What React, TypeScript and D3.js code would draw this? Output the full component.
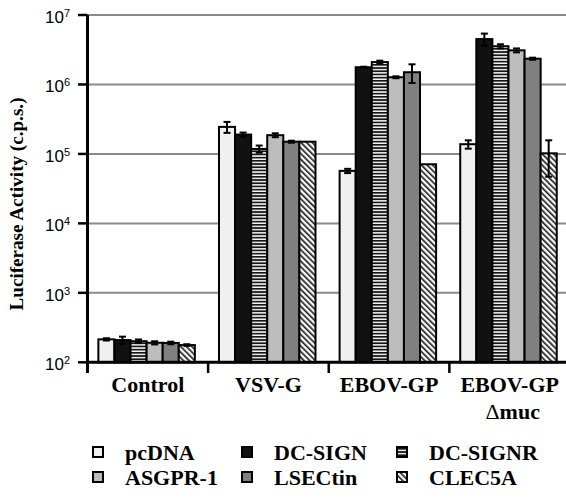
import React from "react";
import * as d3 from "d3";

// Infection groups (x axis) and receptor constructs (bars within each group)
const categories = ["Control", "VSV-G", "EBOV-GP", "EBOV-GP Δmuc"];
const categoryLines = [["Control"], ["VSV-G"], ["EBOV-GP"], ["EBOV-GP", "Δmuc"]];
const series = ["pcDNA", "DC-SIGN", "DC-SIGNR", "ASGPR-1", "LSECtin", "CLEC5A"];

// Mean luciferase activity (c.p.s.), one value per category
const pcDNA = [214, 2.45e5, 5.7e4, 1.38e5];
const dcSign = [209, 1.9e5, 1.77e6, 4.5e6];
const dcSignR = [201, 1.18e5, 2.1e6, 3.55e6];
const asgpr1 = [191, 1.86e5, 1.27e6, 3.1e6];
const lsectin = [190, 1.5e5, 1.5e6, 2.35e6];
const clec5a = [177, 1.5e5, 7.1e4, 1.02e5];

// Standard deviations
const pcDNAErr = [8, 4.4e4, 4e3, 1.9e4];
const dcSignErr = [25, 1.3e4, 3e4, 9e5];
const dcSignRErr = [12, 1.4e4, 1e5, 2.4e5];
const asgpr1Err = [10, 1.2e4, 4e4, 2e5];
const lsectinErr = [8, 5e3, 4.5e5, 8e4];
const clec5aErr = [5, 0, 0, 5.5e4];

const yTickExponents = [2, 3, 4, 5, 6, 7];

const values = [pcDNA, dcSign, dcSignR, asgpr1, lsectin, clec5a];
const errors = [pcDNAErr, dcSignErr, dcSignRErr, asgpr1Err, lsectinErr, clec5aErr];
const fills = ["#f0f0f0", "#111111", "url(#stripes)", "#bdbdbd", "#808080", "url(#hatch)"];

const W = 566;
const H = 500;
const left = 87.5;
const axisY = 362.3;
const top = 15;

export default function App() {
  const y = d3.scaleLog().domain([1e2, 1e7]).range([axisY, top]);
  const x0 = d3.scaleBand<string>().domain(categories).range([left, 570]).padding(0);
  const bw = x0.bandwidth();
  const x1 = d3
    .scaleBand<string>()
    .domain(series)
    .range([bw * 0.09, bw * 0.89])
    .padding(0);
  const barW = x1.bandwidth();
  const serif = "Liberation Serif, Times New Roman, serif";
  const sans = "Liberation Sans, Arial, sans-serif";

  const legendCols = [93, 242, 397];
  const legendRows = [452, 477];

  // a leading Δ is set in regular weight, the rest in bold
  const renderLine = (ln: string) =>
    ln.startsWith("Δ") ? (
      <>
        <tspan fontWeight="normal">Δ</tspan>
        {ln.slice(1)}
      </>
    ) : (
      ln
    );

  return (
    <svg width={W} height={H} style={{ position: "absolute", left: 0, top: 0, background: "#fff" }}>
      <defs>
        <pattern id="stripes" width="4" height="3.2" patternUnits="userSpaceOnUse">
          <rect width="4" height="3.2" fill="#f4f4f4" />
          <rect y="0" width="4" height="1.7" fill="#161616" />
        </pattern>
        <pattern
          id="hatch"
          width="4"
          height="4"
          patternUnits="userSpaceOnUse"
          patternTransform="rotate(-45)"
        >
          <rect width="4" height="4" fill="#fafafa" />
          <rect x="0" width="1.6" height="4" fill="#1a1a1a" />
        </pattern>
      </defs>

      {/* horizontal gridlines at each decade */}
      {yTickExponents.slice(1).map((e) => (
        <line
          key={"g" + e}
          x1={left}
          x2={W}
          y1={y(Math.pow(10, e))}
          y2={y(Math.pow(10, e))}
          stroke="#8a8a8a"
          strokeWidth={2}
        />
      ))}

      {/* bars */}
      {categories.map((c, ci) => (
        <g key={c} transform={`translate(${x0(c)},0)`}>
          {series.map((s, si) => {
            const v = values[si][ci];
            const bx = x1(s)!;
            return (
              <rect
                key={s}
                x={bx}
                y={y(v)}
                width={barW}
                height={axisY - y(v)}
                fill={fills[si]}
                stroke="#000"
                strokeWidth={2}
              />
            );
          })}
          {series.map((s, si) => {
            const v = values[si][ci];
            const e = errors[si][ci];
            if (!e) return null;
            const cx = x1(s)! + barW / 2;
            const hi = y(v + e);
            const lo = y(Math.max(v - e, 1e2));
            return (
              <g key={"e" + s} stroke="#000" strokeWidth={2}>
                <line x1={cx} x2={cx} y1={hi} y2={lo} />
                <line x1={cx - 3.5} x2={cx + 3.5} y1={hi} y2={hi} />
                <line x1={cx - 3.5} x2={cx + 3.5} y1={lo} y2={lo} />
              </g>
            );
          })}
        </g>
      ))}

      {/* y axis */}
      <line x1={left} x2={left} y1={top} y2={373} stroke="#000" strokeWidth={3} />
      {yTickExponents.map((e) => {
        const ty = y(Math.pow(10, e));
        return (
          <g key={"t" + e}>
            <line x1={78} x2={left} y1={ty} y2={ty} stroke="#000" strokeWidth={2.5} />
            <text x={45} y={ty + 8} fontFamily={sans} fontSize={17} fill="#000">
              10
              <tspan dy={-6} fontSize={11}>
                {e}
              </tspan>
            </text>
          </g>
        );
      })}

      {/* x axis with category separators */}
      <line x1={left - 1.5} x2={W} y1={axisY} y2={axisY} stroke="#000" strokeWidth={3} />
      {categories.slice(1).map((c) => (
        <line
          key={"s" + c}
          x1={x0(c)!}
          x2={x0(c)!}
          y1={axisY}
          y2={373}
          stroke="#000"
          strokeWidth={2.5}
        />
      ))}
      {categories.map((c, ci) => (
        <text
          key={"l" + c}
          x={x0(c)! + bw / 2}
          y={392}
          textAnchor="middle"
          fontFamily={serif}
          fontWeight="bold"
          fontSize={22}
        >
          {categoryLines[ci].map((ln, li) => (
            <tspan key={li} x={x0(c)! + bw / 2 + (li === 0 ? 0 : 3)} dy={li === 0 ? 0 : 27}>
              {renderLine(ln)}
            </tspan>
          ))}
        </text>
      ))}

      {/* y axis title */}
      <text
        transform={`translate(23,204) rotate(-90)`}
        textAnchor="middle"
        fontFamily={serif}
        fontWeight="bold"
        fontSize={19}
        textLength={213}
        lengthAdjust="spacingAndGlyphs"
      >
        Luciferase Activity (c.p.s.)
      </text>

      {/* legend */}
      {series.map((s, si) => {
        const col = si % 3;
        const row = Math.floor(si / 3);
        const lx = legendCols[col];
        const ly = legendRows[row];
        return (
          <g key={"lg" + s}>
            <rect
              x={lx}
              y={ly - 5}
              width={10}
              height={10}
              fill={fills[si]}
              stroke="#000"
              strokeWidth={2}
            />
            <text
              x={lx + 32}
              y={ly + 7.5}
              fontFamily={serif}
              fontWeight="bold"
              fontSize={22}
            >
              {s}
            </text>
          </g>
        );
      })}
    </svg>
  );
}
